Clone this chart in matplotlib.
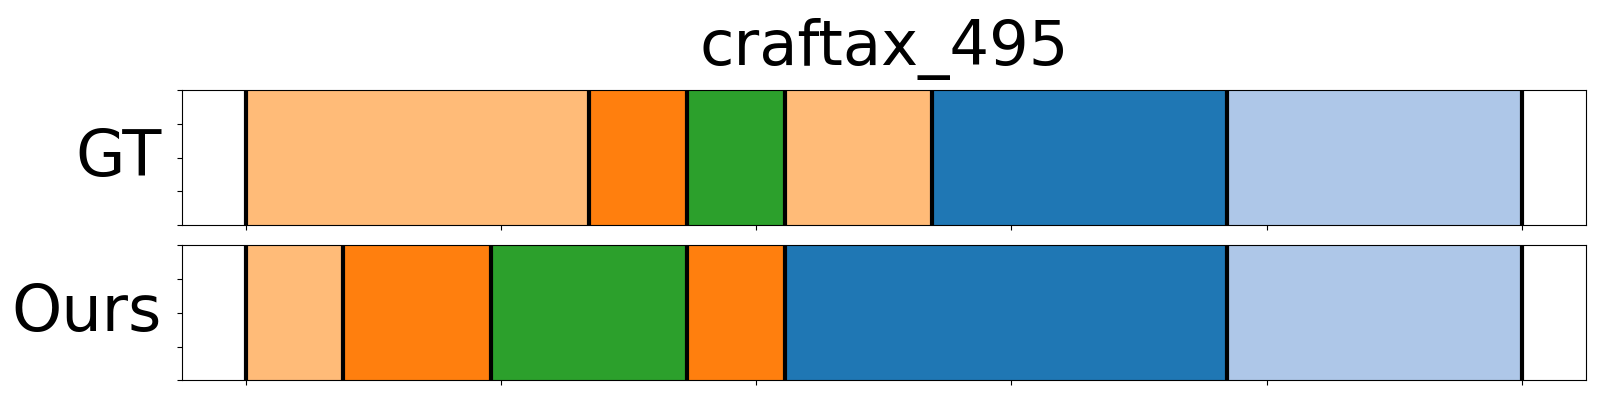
#!/usr/bin/env python3
"""Segment timeline: ground truth vs predicted, craftax_495."""

import matplotlib.pyplot as plt

TITLE = "craftax_495"
ROW_LABELS = ["GT", "Ours"]
TOTAL_LEN = 500

# segment boundaries (start points, last one is the end)
GT_BOUNDS = [0, 134.5, 173, 211.3, 268.8, 384.5, 500]
GT_LABELS = [1, 2, 4, 1, 0, 3]

OURS_BOUNDS = [0, 38, 96, 173, 211.3, 384.5, 500]
OURS_LABELS = [1, 2, 4, 2, 0, 3]

# label id -> tab20 colours
PALETTE = ["#1f77b4", "#ffbb78", "#ff7f0e", "#aec7e8", "#2ca02c"]
EDGE = ["#1a6aa3", "#e8a868", "#e6720c", "#9db5d6", "#27922a"]


def draw_row(ax, bounds, labels, name):
    starts = bounds[:-1]
    widths = [b - a for a, b in zip(bounds[:-1], bounds[1:])]
    ax.barh(0.5, widths, left=starts, height=1.0,
            color=[PALETTE[k] for k in labels],
            edgecolor=[EDGE[k] for k in labels], linewidth=0.8, zorder=1)
    for b in bounds:
        ax.axvline(b, color="black", linewidth=3.0, zorder=2)
    ax.set_xlim(-0.05 * TOTAL_LEN, 1.05 * TOTAL_LEN)
    ax.set_ylim(0, 1)
    ax.set_xticks(range(0, TOTAL_LEN + 1, 100))
    ax.set_yticks([0, 0.25, 0.5, 0.75, 1.0])
    ax.tick_params(labelbottom=False, labelleft=False)
    ax.set_ylabel(name, rotation=0, fontsize=46, ha="right", va="center", labelpad=11)


fig = plt.figure(figsize=(16, 4), dpi=100)
ax_gt = fig.add_axes([0.1136, 0.4375, 0.8775, 0.3365])
ax_ours = fig.add_axes([0.1136, 0.049, 0.8775, 0.338])

draw_row(ax_gt, GT_BOUNDS, GT_LABELS, ROW_LABELS[0])
draw_row(ax_ours, OURS_BOUNDS, OURS_LABELS, ROW_LABELS[1])
ax_gt.set_title(TITLE, fontsize=45, pad=18)

fig.savefig("out.png", dpi=100)
plt.close(fig)
